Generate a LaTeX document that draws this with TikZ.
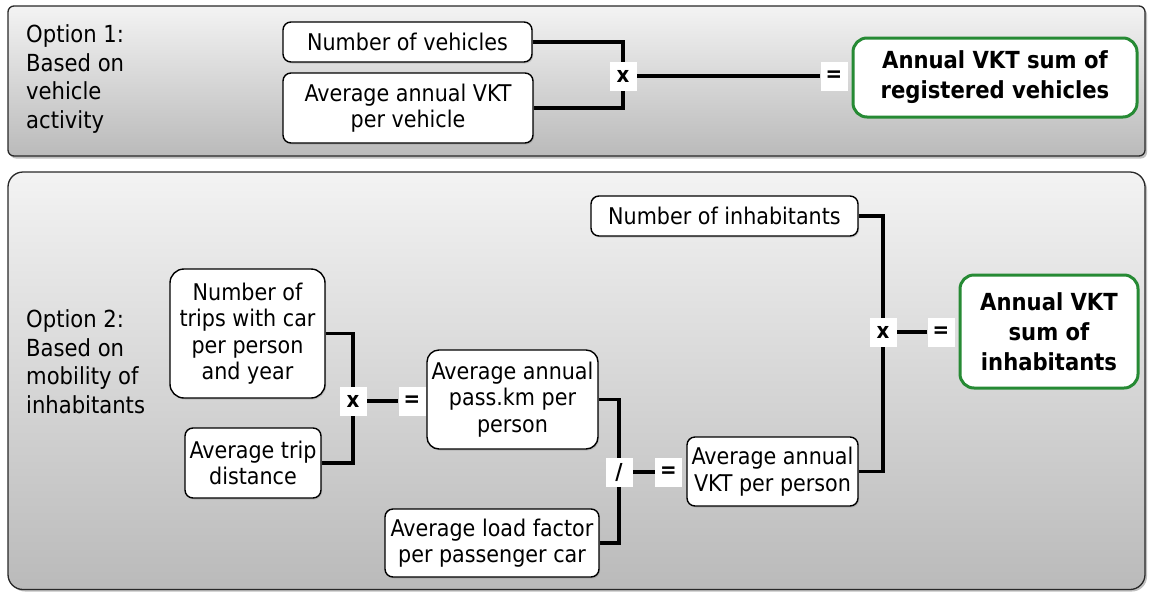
\documentclass[tikz,border=0pt]{standalone}
\usepackage{fontspec}
\setmainfont{DejaVu Sans Condensed}
\usetikzlibrary{shadows}
\pgfdeclarelayer{panel}
\pgfdeclarelayer{wires}
\pgfsetlayers{panel,wires,main}
\definecolor{panelTop}{RGB}{243,243,243}
\definecolor{panelBot}{RGB}{186,186,186}
\definecolor{resgreen}{RGB}{38,138,52}
\definecolor{edgegray}{RGB}{40,40,40}
\tikzset{
  factor/.style={draw=black, line width=1.4pt, fill=white, rounded corners=8pt,
    align=center, inner sep=0pt, font=\fontsize{23}{26.5}\selectfont,
    drop shadow={shadow xshift=1.2pt, shadow yshift=-1.5pt, opacity=0.3}},
  result/.style={draw=resgreen, line width=3pt, fill=white, rounded corners=14pt,
    align=center, inner sep=0pt, font=\fontsize{23.5}{30}\selectfont\bfseries},
  opbox/.style={fill=white, inner sep=0pt, minimum width=27pt, minimum height=29pt,
    font=\fontsize{22}{22}\selectfont\bfseries},
  wire/.style={line width=3.2pt, black},
  caption/.style={align=left, anchor=north west, inner sep=0pt,
    font=\fontsize{23.5}{28.5}\selectfont},
  panelbox/.style={draw=edgegray, line width=1.3pt, top color=panelTop, bottom color=panelBot},
}
\begin{document}
\begin{tikzpicture}[x=1pt, y=-1pt]
\useasboundingbox (0,0) rectangle (1150,592);

% background panels
\begin{pgfonlayer}{panel}
  \fill[black, opacity=0.25, rounded corners=6pt] (10,8.5) rectangle (1147,158.5);
  \shade[panelbox, rounded corners=6pt] (8,6) rectangle (1145,156);
  \fill[black, opacity=0.25, rounded corners=15pt] (10,174.5) rectangle (1147,591.5);
  \shade[panelbox, rounded corners=15pt] (8,172) rectangle (1145,589.5);
\end{pgfonlayer}

% option 1
\node[caption] (cap1) at (26,24.5) {Option 1:\\Based on\\vehicle\\activity};
\node[factor, minimum width=249pt, minimum height=40pt] (nveh) at (407.5,42) {Number of vehicles};
\node[factor, minimum width=250pt, minimum height=70pt] (avgveh) at (408,108) {Average annual VKT\\per vehicle};
\node[result, minimum width=284pt, minimum height=79pt] (sum1) at (995,77.5) {Annual VKT sum of\\registered vehicles};
\node[opbox] (x1) at (623,76) {x};
\node[opbox] (eq1) at (834,76) {=};

% option 2
\node[caption] (cap2) at (26,309.5) {Option 2:\\Based on\\mobility of\\inhabitants};
\node[factor, minimum width=267pt, minimum height=40pt] (ninh) at (724.5,216) {Number of inhabitants};
\node[factor, minimum width=155pt, minimum height=129pt, rounded corners=14pt] (trips) at (247.5,333.5) {Number of\\trips with car\\per person\\and year};
\node[factor, minimum width=136pt, minimum height=70pt] (dist) at (253,463) {Average trip\\distance};
\node[factor, minimum width=171pt, minimum height=99pt, rounded corners=12pt] (pkm) at (512.5,399.5) {Average annual\\pass.km per\\person};
\node[factor, minimum width=214pt, minimum height=68pt] (load) at (492,543) {Average load factor\\per passenger car};
\node[factor, minimum width=171pt, minimum height=69pt] (vkt) at (772.5,471.5) {Average annual\\VKT per person};
\node[result, minimum width=178pt, minimum height=113pt] (sum2) at (1049,331.5) {Annual VKT\\sum of\\inhabitants};
\node[opbox] (x2) at (353,401) {x};
\node[opbox] (eq2) at (412,401) {=};
\node[opbox] (dv) at (619,472) {/};
\node[opbox] (eq3) at (668.5,472) {=};
\node[opbox] (x3) at (883,332) {x};
\node[opbox] (eq4) at (941,332) {=};

% connectors
\begin{pgfonlayer}{wires}
  \draw[wire] (nveh.east) -| (x1.center) |- (avgveh.east);
  \draw[wire] (x1) -- (eq1);
  \draw[wire] (trips.east) -| (x2.center) |- (dist.east);
  \draw[wire] (x2) -- (eq2);
  \draw[wire] (pkm.east) -| (dv.center) |- (load.east);
  \draw[wire] (dv) -- (eq3);
  \draw[wire] (ninh.east) -| (x3.center) |- (vkt.east);
  \draw[wire] (x3) -- (eq4);
\end{pgfonlayer}
\end{tikzpicture}
\end{document}
